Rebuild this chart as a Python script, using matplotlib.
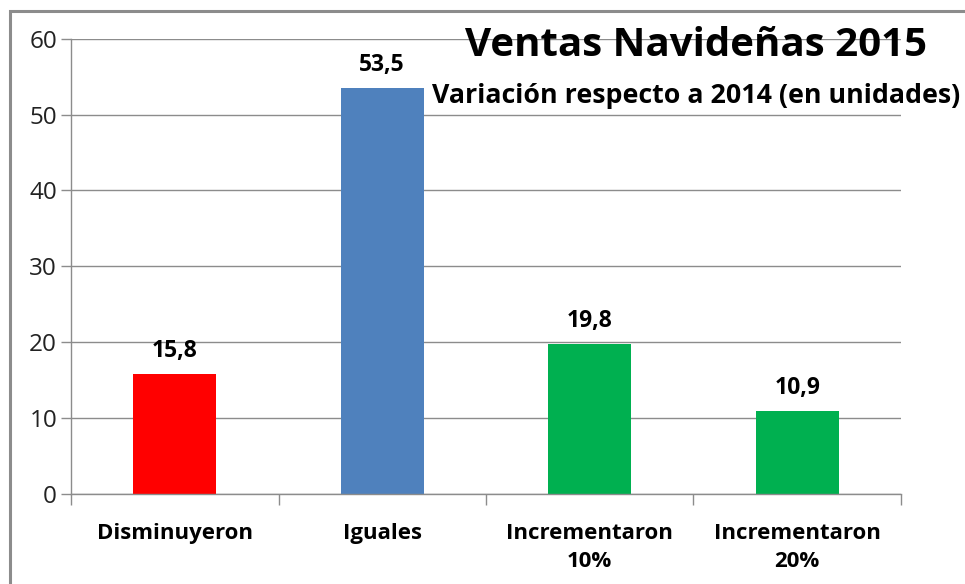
import matplotlib
matplotlib.use("Agg")
import matplotlib.pyplot as plt
from matplotlib.patches import Rectangle

categories = ["Disminuyeron", "Iguales", "Incrementaron\n10%", "Incrementaron\n20%"]
values = [15.8, 53.5, 19.8, 10.9]
value_labels = ["15,8", "53,5", "19,8", "10,9"]
colors = ["#FF0000", "#4F81BD", "#00B050", "#00B050"]
yticks = [0, 10, 20, 30, 40, 50, 60]

plt.rcParams['font.family'] = ['Open Sans', 'DejaVu Sans']

fig = plt.figure(figsize=(9.65, 5.84), dpi=100)
fig.patches.append(Rectangle((10/965, -0.1), 1.2, (584-11)/584 + 0.1, transform=fig.transFigure,
                             fill=False, edgecolor="#8c8c8c", linewidth=2.2, zorder=0))
ax = fig.add_axes([71/965, (584-494)/584, (901-71)/965, (494-38.7)/584])

x = list(range(len(categories)))
ax.bar(x, values, width=0.40, color=colors, zorder=2)
ax.set_xlim(-0.5, len(categories) - 0.5)
ax.set_ylim(0, 60)
ax.set_yticks(yticks)
ax.set_yticklabels([str(t) for t in yticks], fontsize=17.5, color="#222222")
ax.yaxis.grid(True, color="#8c8c8c", linewidth=1.0, zorder=0)
ax.set_axisbelow(True)

ax.set_xticks(x)
ax.set_xticklabels(categories, fontsize=16, fontweight="bold", linespacing=1.4)
ax.tick_params(axis="x", length=0, pad=21)
ax.set_xticks([i + 0.5 for i in range(-1, len(categories))], minor=True)
ax.tick_params(axis="x", which="minor", length=8, color="#8c8c8c", width=1)
ax.tick_params(axis="y", length=7, color="#8c8c8c", width=1, pad=3)

for s in ["top", "right"]:
    ax.spines[s].set_visible(False)
for s in ["left", "bottom"]:
    ax.spines[s].set_color("#8c8c8c")
    ax.spines[s].set_linewidth(1.0)

for xi, v, lab in zip(x, values, value_labels):
    ax.annotate(lab, (xi, v), xytext=(0, 8), textcoords="offset points",
                ha="center", va="bottom", fontsize=16.5, fontweight="bold")

fig.text(696/965, 1 - 46/584, "Ventas Navideñas 2015", ha="center", va="center",
         fontsize=29, fontweight="bold")
fig.text(696/965, 1 - 96/584, "Variación respecto a 2014 (en unidades)", ha="center", va="center",
         fontsize=19.3, fontweight="bold")

fig.savefig("out.png", dpi=100)
